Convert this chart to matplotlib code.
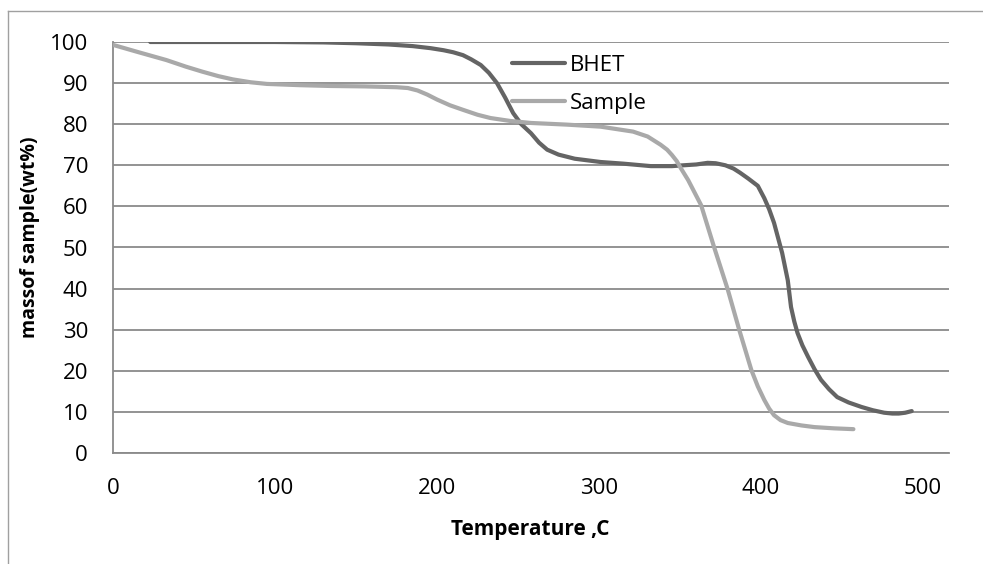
import matplotlib
matplotlib.use('Agg')
import matplotlib.pyplot as plt
from matplotlib.lines import Line2D

# TGA curves
bhet_temp = [23, 60, 100, 130, 150, 170, 185, 196, 204, 210, 216, 221, 227,
             232, 237, 242, 247, 252, 258, 263, 268, 275, 285, 301, 315, 332,
             345, 352, 360, 367, 372, 378, 383, 387, 392, 398, 402, 405, 408,
             413, 416.5, 418.5, 420.5, 422.5, 425.5, 429, 433, 437, 442, 447,
             454, 462, 469, 476, 481, 485, 489, 493]
bhet_mass = [100, 100, 100, 99.9, 99.7, 99.4, 99.0, 98.5, 98.0, 97.5, 96.8,
             95.8, 94.4, 92.5, 90, 86.5, 82.7, 80, 77.8, 75.5, 73.8, 72.6,
             71.6, 70.8, 70.4, 69.8, 69.8, 70.0, 70.2, 70.6, 70.5, 70.0, 69.2,
             68.2, 66.8, 65.0, 62.0, 59.3, 56, 48.7, 42, 35.5, 32, 29.2, 26.2,
             23.4, 20.4, 17.8, 15.5, 13.6, 12.3, 11.2, 10.4, 9.8, 9.6, 9.6,
             9.8, 10.2]

sample_temp = [0, 15, 33, 45, 55, 65, 74, 85, 95, 115, 134, 155, 175, 182,
               188, 194, 200, 208, 216, 225, 233, 245, 258, 280, 301, 321, 330,
               338, 342, 345, 348, 350, 355, 363, 371, 379.5, 386.5, 394, 398,
               402, 405, 408, 412, 416.5, 425, 433, 445, 457]
sample_mass = [99.3, 97.6, 95.6, 94.0, 92.8, 91.7, 90.9, 90.2, 89.8, 89.5,
               89.3, 89.2, 89.0, 88.8, 88.2, 87.2, 86.0, 84.6, 83.5, 82.3,
               81.5, 80.8, 80.3, 79.9, 79.4, 78.2, 77.0, 75.0, 73.8, 72.5, 71.0,
               69.6, 66.4, 60.3, 50.1, 39.7, 30, 20.2, 16.2, 12.9, 10.8, 9.2,
               8.0, 7.3, 6.7, 6.3, 6.0, 5.8]

x_ticks = [0, 100, 200, 300, 400, 500]
y_ticks = [0, 10, 20, 30, 40, 50, 60, 70, 80, 90, 100]

W, H = 983, 564
fig = plt.figure(figsize=(W / 100, H / 100), dpi=100)
ax = fig.add_axes([113 / W, (H - 453) / H, (949 - 113) / W, (453 - 42) / H])

ax.plot(bhet_temp, bhet_mass, '-', color='#646464', lw=3.0,
        solid_capstyle='round', solid_joinstyle='round', label='BHET',
        zorder=3)
ax.plot(sample_temp, sample_mass, '-', color='#a9a9a9', lw=3.0,
        solid_capstyle='round', solid_joinstyle='round', label='Sample',
        zorder=3)

ax.set_xlim(0, 516)
ax.set_ylim(0, 100)
ax.set_xticks(x_ticks)
ax.set_yticks(y_ticks)
ax.yaxis.grid(True, color='#8a8a8a', lw=1.3)
ax.set_axisbelow(True)
ax.tick_params(length=0, labelsize=16, colors='black')
ax.tick_params(axis='y', pad=18)
ax.tick_params(axis='x', pad=18)
for t in ax.get_xticklabels() + ax.get_yticklabels():
    t.set_fontfamily('Open Sans')

for s in ['top', 'right']:
    ax.spines[s].set_visible(False)
for s in ['left', 'bottom']:
    ax.spines[s].set_color('#8a8a8a')
    ax.spines[s].set_linewidth(1.3)

fig.text(530 / W, 1 - 530 / H, 'Temperature ,C', ha='center', va='center',
         fontsize=15, fontweight='bold', family='Open Sans')
fig.text(30 / W, 1 - 237 / H, 'massof sample(wt%)', ha='center', va='center',
         rotation=90, fontsize=14, fontweight='bold', family='Open Sans')

leg = ax.legend(loc='upper left', bbox_to_anchor=(512 / W, 1 - 55 / H),
                bbox_transform=fig.transFigure, frameon=False,
                prop={'family': 'Open Sans', 'size': 16}, handlelength=2.4,
                handletextpad=0.2, labelspacing=0.75, borderpad=0,
                borderaxespad=0)

# chart area border (only left and top edges show in the reference)
fig.add_artist(Line2D([8 / W, 8 / W], [0, 1 - 11 / H], color='#a0a0a0',
                      lw=1.0, transform=fig.transFigure))
fig.add_artist(Line2D([8 / W, 1], [1 - 11 / H, 1 - 11 / H], color='#a0a0a0',
                      lw=1.0, transform=fig.transFigure))

fig.savefig('out.png', dpi=100)
